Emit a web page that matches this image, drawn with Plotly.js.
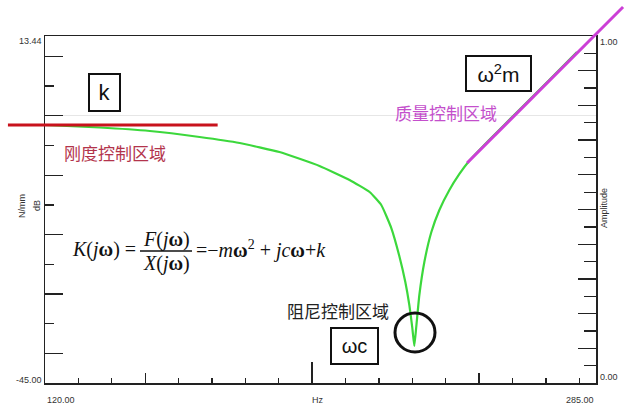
<!DOCTYPE html>
<html>
<head>
<meta charset="utf-8">
<script src="https://cdn.plot.ly/plotly-3.0.1.min.js"></script>
<style>html,body{margin:0;padding:0;background:#fff;}#chart{width:633px;height:412px;}</style>
</head>
<body>
<div id="chart"></div>
<script>
// ---- data ----
const frequencyHz = [120, 136.4, 151.4, 166.3, 178.3, 190.2, 202.2, 211.2, 217.2, 220.7, 223.7, 226.1, 227.9, 229.1, 230.0, 230.6, 231.2, 232.1, 233.6, 235.7, 238.1, 241.1, 244.1, 247.0, 253.0, 262.0, 271.0, 279.3];
const stiffnessDb = [-1.55, -1.97, -2.56, -3.57, -4.58, -6.10, -8.45, -10.81, -12.83, -15.02, -18.90, -23.61, -27.99, -31.86, -35.74, -38.77, -35.40, -30.18, -24.62, -19.57, -15.86, -12.50, -9.80, -7.61, -4.08, 0.98, 6.03, 10.75];
const stiffLineX = [108.9, 171.7];
const stiffLineY = [-1.55, -1.55];
const massLineX = [246.4, 293.1];
const massLineY = [-7.95, 18.32];
const xRange = [120, 285];
const yRange = [-45, 13.44];
const ampRange = [0, 1];
const xEndLabels = ['120.00', 'Hz', '285.00'];
const yEndLabels = ['13.44', '-45.00'];
const ampEndLabels = ['1.00', '0.00'];

// ---- layout geometry ----
const W = 633, H = 412, L = 45, R = 596, T = 36, B = 383;
const px = x => x / W;
const py = y => 1 - y / H;
const kx = (xRange[1] - xRange[0]) / (R - L);
const ky = (yRange[1] - yRange[0]) / (B - T);
const x2Range = [xRange[0] - L * kx, xRange[1] + (W - R) * kx];
const y2Range = [yRange[0] - (H - B) * ky, yRange[1] + T * ky];

const traces = [
  {x: frequencyHz, y: stiffnessDb, xaxis: 'x', yaxis: 'y', mode: 'lines',
   line: {color: '#3cd83c', width: 2.2, shape: 'spline', smoothing: 0.4}, hoverinfo: 'skip'},
  {x: [], y: [], xaxis: 'x', yaxis: 'y3', mode: 'lines'},
  {x: [], y: [], xaxis: 'x3', yaxis: 'y', mode: 'lines'},
  {x: stiffLineX, y: stiffLineY, xaxis: 'x2', yaxis: 'y2', mode: 'lines',
   line: {color: '#c8121c', width: 3}},
  {x: massLineX, y: massLineY, xaxis: 'x2', yaxis: 'y2', mode: 'lines',
   line: {color: '#cc3fd6', width: 3}}
];

const axCol = '#222';
const tf = {family: 'Liberation Sans, Arial, sans-serif', size: 9, color: '#333'};
const cjk = 'Noto Sans CJK SC, sans-serif';
const serif = 'Liberation Serif, Times New Roman, serif';
const sans = 'Liberation Sans, Arial, sans-serif';
const eqFont = {family: serif, size: 20, color: '#111'};

function lab(text, x, y, xanchor, extra) {
  return Object.assign({text: text, xref: 'paper', yref: 'paper', x: px(x), y: py(y),
    xanchor: xanchor, yanchor: 'middle', showarrow: false, font: tf}, extra || {});
}
function box(text, cx, cy, w, h, size) {
  return {text: text, xref: 'paper', yref: 'paper', x: px(cx), y: py(cy), xanchor: 'center', yanchor: 'middle',
    showarrow: false, width: w, height: h, bordercolor: '#111', borderwidth: 2, borderpad: 0, bgcolor: '#fff',
    align: 'center', valign: 'middle', font: {family: sans, size: size, color: '#111'}};
}

const layout = {
  width: W, height: H,
  margin: {l: 0, r: 0, t: 0, b: 0, pad: 0},
  paper_bgcolor: '#ffffff', plot_bgcolor: 'rgba(0,0,0,0)',
  showlegend: false,
  xaxis: {domain: [px(L), px(R)], range: xRange, anchor: 'y', showline: true, mirror: true,
    linecolor: axCol, linewidth: 1.5, ticks: 'inside', tick0: 150, dtick: 50, ticklen: 10,
    tickwidth: 1.3, tickcolor: axCol, showticklabels: false, showgrid: false, zeroline: false,
    minor: {ticks: 'inside', dtick: 10, ticklen: 5, tickwidth: 1.3, tickcolor: axCol, showgrid: false}},
  yaxis: {domain: [py(B), py(T)], range: yRange, anchor: 'x', showline: true, mirror: true,
    linecolor: axCol, linewidth: 1.5, ticks: 'inside', tick0: -40, dtick: 10, ticklen: 18,
    tickwidth: 1.3, tickcolor: axCol, showticklabels: false, showgrid: false,
    zeroline: true, zerolinecolor: '#e6e6e6', zerolinewidth: 1,
    minor: {ticks: 'inside', dtick: 5, ticklen: 9, tickwidth: 1.3, tickcolor: axCol, showgrid: false}},
  yaxis3: {overlaying: 'y', side: 'right', anchor: 'x', range: ampRange, ticks: 'inside', tick0: 0, dtick: 0.1,
    ticklen: 18, tickwidth: 1.3, tickcolor: axCol, showline: false, showgrid: false, zeroline: false,
    showticklabels: false,
    minor: {ticks: 'inside', dtick: 0.05, ticklen: 12, tickwidth: 1.3, tickcolor: axCol, showgrid: false}},
  xaxis3: {overlaying: 'x', anchor: 'y', side: 'bottom', range: xRange, tickmode: 'array', tickvals: [200],
    ticks: 'inside', ticklen: 21, tickwidth: 1.3, tickcolor: axCol, showline: false, showgrid: false,
    zeroline: false, showticklabels: false},
  xaxis2: {domain: [0, 1], range: x2Range, anchor: 'y2', visible: false, fixedrange: true},
  yaxis2: {domain: [0, 1], range: y2Range, anchor: 'x2', visible: false, fixedrange: true},
  shapes: [
    {type: 'circle', xref: 'paper', yref: 'paper', x0: px(395), x1: px(435), y0: py(352), y1: py(313),
     line: {color: '#111', width: 3}},
    {type: 'line', xref: 'paper', yref: 'paper', x0: px(140), x1: px(192), y0: py(251), y1: py(251),
     line: {color: '#111', width: 1.3}}
  ],
  annotations: [
    lab(yEndLabels[0], 44, 41, 'right'),
    lab(yEndLabels[1], 44, 380, 'right'),
    lab(xEndLabels[0], 45, 400, 'left'),
    lab(xEndLabels[1], 318, 400, 'center'),
    lab(xEndLabels[2], 596, 400, 'right'),
    lab(ampEndLabels[0], 598, 42, 'left'),
    lab(ampEndLabels[1], 598, 377, 'left'),
    lab('N/mm', 22, 206, 'center', {textangle: -90}),
    lab('dB', 37, 206, 'center', {textangle: -90}),
    lab('Amplitude', 604, 208, 'center', {textangle: -90}),
    box('k', 104.5, 92.5, 29, 35, 22),
    box('ω<sup>2</sup>m', 498.5, 73.5, 63, 33, 21),
    box('ωc', 354.5, 346, 45, 34, 20),
    lab('刚度控制区域', 115, 152, 'center', {font: {family: cjk, size: 17, color: '#b3344c'}}),
    lab('质量控制区域', 445.5, 112, 'center', {font: {family: cjk, size: 17, color: '#c44fcc'}}),
    lab('阻尼控制区域', 338.5, 310, 'center', {font: {family: cjk, size: 17, color: '#222'}}),
    lab('<i>K</i>(<i>j</i><b>ω</b>) =', 70, 250, 'left', {font: eqFont}),
    lab('<i>F</i>(<i>j</i><b>ω</b>)', 166, 240, 'center', {font: eqFont}),
    lab('<i>X</i>(<i>j</i><b>ω</b>)', 166, 263, 'center', {font: eqFont}),
    lab('=−<i>m</i><b>ω</b><sup>2</sup> + <i>jc</i><b>ω</b>+<i>k</i>', 194, 250, 'left', {font: eqFont})
  ]
};

Plotly.newPlot('chart', traces, layout, {staticPlot: true, displayModeBar: false});
</script>
</body>
</html>
